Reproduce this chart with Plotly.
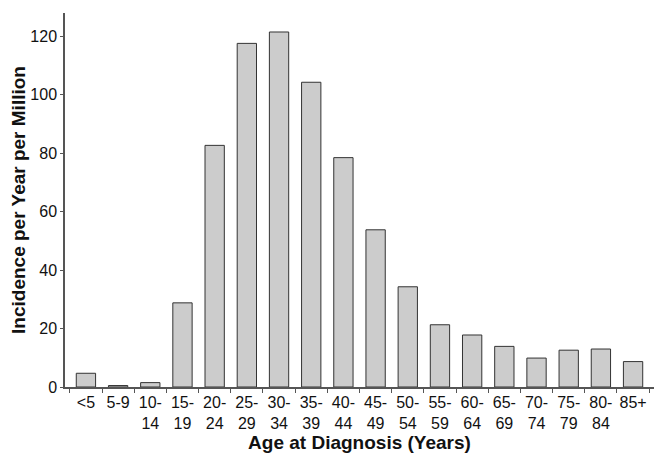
import plotly.graph_objects as go

categories = ["<5", "5-9", "10-<br>14", "15-<br>19", "20-<br>24", "25-<br>29", "30-<br>34",
              "35-<br>39", "40-<br>44", "45-<br>49", "50-<br>54", "55-<br>59", "60-<br>64",
              "65-<br>69", "70-<br>74", "75-<br>79", "80-<br>84", "85+"]
incidence = [4.7, 0.5, 1.5, 28.8, 82.7, 117.6, 121.5, 104.3, 78.5, 53.8, 34.3,
             21.3, 17.8, 13.9, 9.9, 12.6, 13.0, 8.7]
y_ticks = [0, 20, 40, 60, 80, 100, 120]

fig = go.Figure(go.Bar(
    x=categories, y=incidence,
    marker=dict(color="#cccccc", line=dict(color="#333333", width=1)),
))

fig.update_layout(
    width=656, height=458,
    margin=dict(l=57, r=10, t=5, b=79),
    paper_bgcolor="white", plot_bgcolor="white",
    bargap=0.4, showlegend=False,
    font=dict(family="Liberation Sans, Arial, sans-serif", color="#111111", size=16),
)
fig.update_xaxes(
    type="category", range=[-0.65, 17.65], tickson="boundaries",
    tickangle=0, automargin=False,
    showline=True, linecolor="#555555", linewidth=1.5,
    ticks="outside", ticklen=4, tickcolor="#555555",
    showgrid=False, zeroline=False,
    tickfont=dict(size=16),
    title=dict(text="<b>Age at Diagnosis (Years)</b>", font=dict(size=19), standoff=0),
)
fig.update_yaxes(
    range=[0, 128], tickvals=y_ticks, automargin=False,
    showline=True, linecolor="#555555", linewidth=1.5,
    ticks="outside", ticklen=3, tickcolor="#555555",
    showgrid=False, zeroline=False,
    tickfont=dict(size=16),
    title=dict(text="<b>Incidence per Year per Million</b>", font=dict(size=19), standoff=10),
)

fig.write_html("out.html")
